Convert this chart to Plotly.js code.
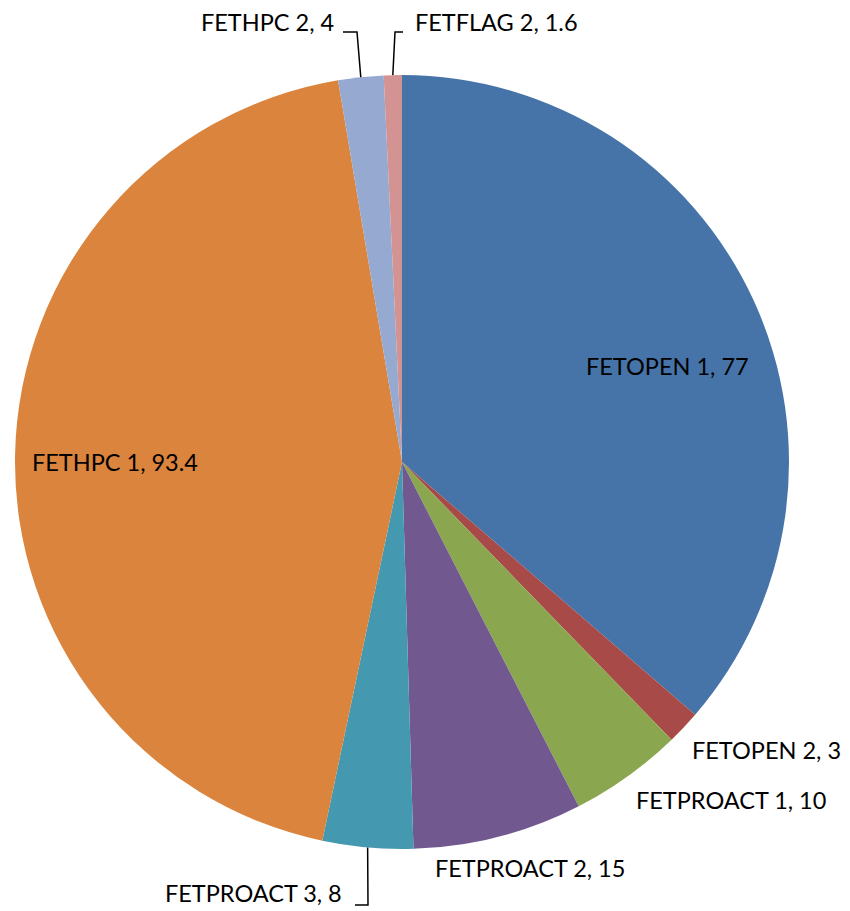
<!DOCTYPE html>
<html>
<head>
<meta charset="utf-8">
<script src="https://cdn.plot.ly/plotly-3.0.1.min.js"></script>
<style>html,body{margin:0;padding:0;background:#fff;}#chart{width:850px;height:911px;}</style>
</head>
<body>
<div id="chart"></div>
<script>
// Data
const categories = ["FETOPEN 1", "FETOPEN 2", "FETPROACT 1", "FETPROACT 2", "FETPROACT 3", "FETHPC 1", "FETHPC 2", "FETFLAG 2"];
const values = [77, 3, 10, 15, 8, 93.4, 4, 1.6];
const colors = ["#4674A8", "#A84B48", "#8AA64E", "#715990", "#4499B0", "#DB843D", "#95A9D1", "#D29392"];

// Layout (pixel geometry)
const W = 850, H = 911;
const cx = 402, cy = 462, R = 387;
// label text centers (px) and leader-line elbows (null = no leader)
const labelPos = [
  {x: 667, y: 366, leader: null},
  {x: 766, y: 750, leader: null},
  {x: 731, y: 800, leader: null},
  {x: 530, y: 868, leader: null},
  {x: 253, y: 893, leader: {ex: 368, ey: 905, tx: 355}},
  {x: 115, y: 462, leader: null},
  {x: 267, y: 22, leader: {ex: 357, ey: 32, tx: 343}},
  {x: 496, y: 22, leader: {ex: 395, ey: 32, tx: 403}}
];

const px = x => x / W;
const py = y => 1 - y / H;

const total = values.reduce((a, b) => a + b, 0);
let cum = 0;
const annotations = [];
const shapes = [];
values.forEach((v, i) => {
  const mid = (cum + v / 2) / total * 2 * Math.PI;
  cum += v;
  const lp = labelPos[i];
  annotations.push({
    xref: 'paper', yref: 'paper', x: px(lp.x), y: py(lp.y),
    xanchor: 'center', yanchor: 'middle', showarrow: false,
    text: categories[i] + ', ' + v,
    font: {family: 'Lato, "Open Sans", sans-serif', size: 23.5, color: '#000'}
  });
  if (lp.leader) {
    const sx = cx + R * Math.sin(mid);
    const sy = cy - R * Math.cos(mid);
    const L = lp.leader;
    shapes.push({type: 'path', xref: 'paper', yref: 'paper',
      path: `M ${px(sx)} ${py(sy)} L ${px(L.ex)} ${py(L.ey)} L ${px(L.tx)} ${py(L.ey)}`,
      line: {color: '#000', width: 1.5}});
  }
});

const trace = {
  type: 'pie',
  labels: categories,
  values: values,
  sort: false,
  direction: 'clockwise',
  rotation: 0,
  marker: {colors: colors, line: {width: 0}},
  textinfo: 'none',
  hoverinfo: 'label+value',
  showlegend: false,
  domain: {x: [px(cx - R), px(cx + R)], y: [py(cy + R), py(cy - R)]}
};

const layout = {
  width: W, height: H,
  margin: {l: 0, r: 0, t: 0, b: 0},
  paper_bgcolor: '#fff',
  showlegend: false,
  annotations: annotations,
  shapes: shapes
};

Plotly.newPlot('chart', [trace], layout, {displayModeBar: false, staticPlot: true});
</script>
</body>
</html>
